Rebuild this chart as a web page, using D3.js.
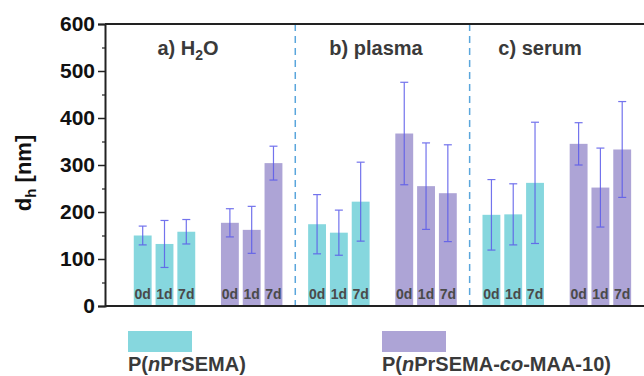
<!DOCTYPE html>
<html>
<head>
<meta charset="utf-8">
<script src="https://cdn.jsdelivr.net/npm/d3@7"></script>
<style>
  body { margin: 0; background: #fff; }
  text { font-family: "Liberation Sans", Arial, sans-serif; }
</style>
</head>
<body>
<div id="chart"></div>
<script>
// media (paneles) y días
const media = ["a) H2O", "b) plasma", "c) serum"];
const days = ["0d", "1d", "7d"];
const polymers = ["P(nPrSEMA)", "P(nPrSEMA-co-MAA-10)"];

// d_h en nm, por medio: [0d, 1d, 7d]
const homoValues = [[150, 132, 158], [174, 156, 222], [194, 195, 262]];
const homoErrors = [[20, 50, 26], [63, 48, 84], [75, 65, 129]];
const coValues = [[177, 162, 304], [367, 255, 240], [345, 252, 333]];
const coErrors = [[30, 50, 36], [109, 92, 103], [45, 84, 102]];

const yTicks = [0, 100, 200, 300, 400, 500, 600];

const width = 644, height = 376;
const margin = { left: 105, top: 24, bottom: 306 };

const svg = d3.select("#chart").append("svg")
    .attr("width", width)
    .attr("height", height);

// cada panel = 8 posiciones; homo en 0..2, copolímero en 4..6
const x = d3.scaleLinear().domain([-1.73, 23]).range([margin.left, 644]);
const y = d3.scaleLinear().domain([0, 600]).range([margin.bottom, margin.top]);
const slot = x(1) - x(0);
const barW = slot * 0.82;

const colors = ["#86d7de", "#ada4d6"];

const bars = [];
media.forEach(function(m, i) {
    days.forEach(function(d, j) {
        bars.push({ pos: i * 8 + j, v: homoValues[i][j], e: homoErrors[i][j], day: d, c: colors[0] });
        bars.push({ pos: i * 8 + 4 + j, v: coValues[i][j], e: coErrors[i][j], day: d, c: colors[1] });
    });
});

// barras
svg.append("g").selectAll("rect")
    .data(bars).enter().append("rect")
    .attr("x", d => x(d.pos) - barW / 2)
    .attr("width", barW)
    .attr("y", d => y(d.v))
    .attr("height", d => y(0) - y(d.v))
    .attr("fill", d => d.c);

// barras de error
const err = svg.append("g").attr("stroke", "#5b5bea").attr("stroke-width", 1.2).attr("opacity", 0.85);
bars.forEach(function(d) {
    const cx = x(d.pos);
    err.append("line").attr("x1", cx).attr("x2", cx).attr("y1", y(d.v + d.e)).attr("y2", y(d.v - d.e));
    [d.v + d.e, d.v - d.e].forEach(function(v) {
        err.append("line").attr("x1", cx - 4).attr("x2", cx + 4).attr("y1", y(v)).attr("y2", y(v));
    });
});

// etiquetas de días dentro de las barras
svg.append("g").selectAll("text")
    .data(bars).enter().append("text")
    .attr("x", d => x(d.pos))
    .attr("y", 299)
    .attr("text-anchor", "middle")
    .attr("font-size", 14)
    .attr("font-weight", "bold")
    .attr("fill", "#4a4a4a")
    .text(d => d.day);

// divisores discontinuos
[7, 15].forEach(function(p) {
    svg.append("line")
        .attr("x1", x(p)).attr("x2", x(p))
        .attr("y1", margin.top).attr("y2", margin.bottom)
        .attr("stroke", "#5aa6dc")
        .attr("stroke-width", 1.5)
        .attr("stroke-dasharray", "7,5");
});

// títulos de los paneles
const titleX = [188, 376, 540];
media.forEach(function(m, i) {
    const t = svg.append("text")
        .attr("x", titleX[i]).attr("y", 55)
        .attr("text-anchor", "middle")
        .attr("font-size", 20)
        .attr("font-weight", "bold")
        .attr("fill", "#3a3a3a");
    if (m.indexOf("H2O") >= 0) {
        t.append("tspan").text("a) H");
        t.append("tspan").attr("font-size", 14).attr("dy", 5).text("2");
        t.append("tspan").attr("dy", -5).text("O");
    } else {
        t.text(m);
    }
});

// marco
svg.append("line").attr("x1", margin.left).attr("x2", width).attr("y1", margin.top).attr("y2", margin.top)
    .attr("stroke", "#222").attr("stroke-width", 2);
svg.append("line").attr("x1", margin.left).attr("x2", width).attr("y1", margin.bottom).attr("y2", margin.bottom)
    .attr("stroke", "#222").attr("stroke-width", 2);

// eje y
const yAxis = svg.append("g").attr("transform", `translate(${margin.left},0)`)
    .call(d3.axisLeft(y).tickValues(yTicks).tickSize(7).tickPadding(3));
yAxis.select(".domain").attr("stroke", "#222").attr("stroke-width", 2);
yAxis.selectAll(".tick line").attr("stroke", "#222").attr("stroke-width", 1.5);
yAxis.selectAll(".tick text")
    .attr("font-size", 21).attr("font-weight", "bold").attr("fill", "#111")
    .style("font-family", "'Liberation Sans', Arial, sans-serif");
svg.append("g").attr("transform", `translate(${margin.left},0)`)
    .call(d3.axisLeft(y).tickValues(d3.range(50, 600, 100)).tickSize(3).tickFormat(""))
    .call(g => g.select(".domain").remove())
    .selectAll("line").attr("stroke", "#222").attr("stroke-width", 1.2);

// título del eje y
const yt = svg.append("text")
    .attr("transform", "translate(31,173) rotate(-90)")
    .attr("text-anchor", "middle")
    .attr("font-size", 22)
    .attr("font-weight", "bold")
    .attr("fill", "#111");
yt.append("tspan").text("d");
yt.append("tspan").attr("font-size", 15).attr("dy", 5).text("h");
yt.append("tspan").attr("dy", -5).text(" [nm]");

// leyenda
const legX = [128, 382];
polymers.forEach(function(p, i) {
    svg.append("rect")
        .attr("x", legX[i]).attr("y", 331)
        .attr("width", 64).attr("height", 21)
        .attr("fill", colors[i]);
    const t = svg.append("text")
        .attr("x", legX[i]).attr("y", 371)
        .attr("font-size", 20)
        .attr("font-weight", "bold")
        .attr("fill", "#3a3a3a");
    t.append("tspan").text("P(");
    t.append("tspan").attr("font-style", "italic").text("n");
    if (i === 0) {
        t.append("tspan").text("PrSEMA)");
    } else {
        t.append("tspan").text("PrSEMA-");
        t.append("tspan").attr("font-style", "italic").text("co");
        t.append("tspan").text("-MAA-10)");
    }
});
</script>
</body>
</html>
